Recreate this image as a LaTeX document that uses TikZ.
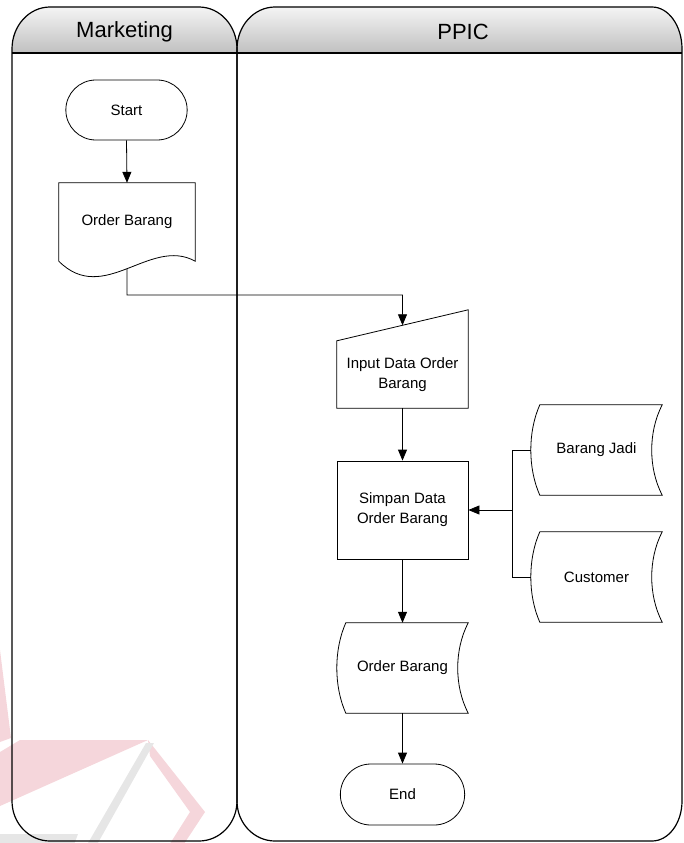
\documentclass[tikz,border=0pt]{standalone}
\usepackage{fontspec}
\setmainfont{Liberation Sans}
\usetikzlibrary{arrows.meta,shapes.misc,calc}
\definecolor{hdrtop}{RGB}{192,192,192}
\definecolor{hdrbot}{RGB}{244,244,244}
\definecolor{wmpink}{RGB}{245,214,219}
\definecolor{wmgrey}{RGB}{230,230,230}
% outline of a stored-data symbol around a named node
\newcommand\drawstore[1]{%
  \draw[outline] ($(#1.north west)+(9,0)$) -- (#1.north east)
    .. controls +(-14,27) and +(-14,-27) .. (#1.south east)
    -- ($(#1.south west)+(9,0)$)
    .. controls +(-12,-27) and +(-12,27) .. ($(#1.north west)+(9,0)$) -- cycle;}
\begin{document}
\begin{tikzpicture}[x=1pt,y=-1pt,
  lane/.style={draw=black,line width=1.2pt},
  hdr/.style={top color=hdrbot,bottom color=hdrtop,draw=none},
  lbl/.style={font=\fontsize{15}{20}\selectfont,align=center},
  title/.style={font=\fontsize{22}{24}\selectfont},
  term/.style={lbl,rounded rectangle,draw,line width=0.8pt,minimum width=128pt,minimum height=60pt},
  procbox/.style={lbl,rectangle,draw,line width=0.8pt,minimum width=131pt,minimum height=98pt},
  plain/.style={lbl,inner sep=0pt,minimum width=131pt,minimum height=90pt},
  outline/.style={draw,line width=0.8pt},
  flow/.style={draw,line width=0.8pt,-{Triangle[length=11pt,width=9pt]}},
  link/.style={draw,line width=0.8pt}]
\useasboundingbox (0,0) rectangle (683,843);

% faint logo in the background
\begin{scope}
\clip (0,0) rectangle (683,843);
\fill[wmpink] (0,650) -- (11,738) -- (0,742) -- cycle;
\fill[wmpink] (20,740) -- (148,740) -- (0,806) -- (0,752) -- cycle;
\fill[wmpink] (148,740) -- (205,812) -- (180,850) -- (166,850) -- (190,812) -- (150,756) -- cycle;
\fill[wmgrey] (146,743) -- (154,743) -- (94,850) -- (84,850) -- cycle;
\fill[wmgrey] (0,834) -- (78,834) -- (72,850) -- (0,850) -- cycle;
\end{scope}

% lane headers
\path[hdr] (12,53) -- (12,49) .. controls (12,25.8) and (29,7) .. (50,7) -- (199,7)
  .. controls (220,7) and (237,25.8) .. (237,49) -- (237,53) -- cycle;
\path[hdr] (237,53) -- (237,49) .. controls (237,25.8) and (254,7) .. (275,7) -- (652,7)
  .. controls (668.6,7) and (682,25.8) .. (682,49) -- (682,53) -- cycle;

% lane outlines
\draw[lane] (12,49) .. controls (12,25.8) and (29,7) .. (50,7) -- (199,7)
  .. controls (220,7) and (237,25.8) .. (237,49) -- (237,801)
  .. controls (237,823.1) and (220,841) .. (199,841) -- (50,841)
  .. controls (29,841) and (12,823.1) .. (12,801) -- cycle;
\draw[lane] (237,49) .. controls (237,25.8) and (254,7) .. (275,7) -- (652,7)
  .. controls (668.6,7) and (682,25.8) .. (682,49) -- (682,801)
  .. controls (682,823.1) and (668.6,841) .. (652,841) -- (275,841)
  .. controls (254,841) and (237,823.1) .. (237,801) -- cycle;
\draw[line width=1.6pt] (12,53) -- (682,53);

\node[title] (mkt) at (124.5,32) {Marketing};
\node[title] (ppic) at (463,32) {PPIC};

% nodes
\node[term] (start) at (126.5,110) {Start};
\node[lbl,inner sep=0pt,minimum width=136pt,minimum height=78pt] (doc) at (127,222) {Order Barang};
\draw[outline] (doc.north west) -- (doc.south west)
  .. controls +(45,45) and +(-45,-25) .. node[coordinate,pos=0.5] (docw) {} (doc.south east)
  -- (doc.north east) -- cycle;

\node[lbl,inner sep=0pt,minimum width=131pt,minimum height=67pt] (inp) at (402.5,374.5) {Input Data Order\\Barang};
\coordinate (inpA) at (inp.north west);
\coordinate (inpB) at ($(inp.north east)+(0,-31)$);
\draw[outline] (inp.north west) -- (inp.south west) -- (inp.south east) -- (inpB) -- cycle;
\coordinate (inptop) at ($(inpA)!0.5!(inpB)$);

\node[procbox] (proc) at (402.5,510) {Simpan Data\\Order Barang};

\node[plain] (bj) at (596.5,450) {Barang Jadi};
\drawstore{bj}
\node[plain] (cu) at (596.5,577) {Customer};
\drawstore{cu}
\node[plain] (out) at (402.5,668) {Order Barang};
\drawstore{out}

\node[term,minimum width=131pt,minimum height=61pt] (end) at (402.5,794.5) {End};

% connectors
\coordinate (turn) at (402.5,295);
\coordinate (join) at (512,510);
\draw[flow] (start.south) -- (doc.north);
\draw[flow] (docw) |- (turn) -- (inptop);
\draw[flow] (inp.south) -- (proc.north);
\draw[link] (bj.west) -| (join);
\draw[link] (cu.west) -| (join);
\draw[flow] (join) -- (proc.east);
\draw[flow] (proc.south) -- (out.north);
\draw[flow] (out.south) -- (end.north);
\end{tikzpicture}
\end{document}
